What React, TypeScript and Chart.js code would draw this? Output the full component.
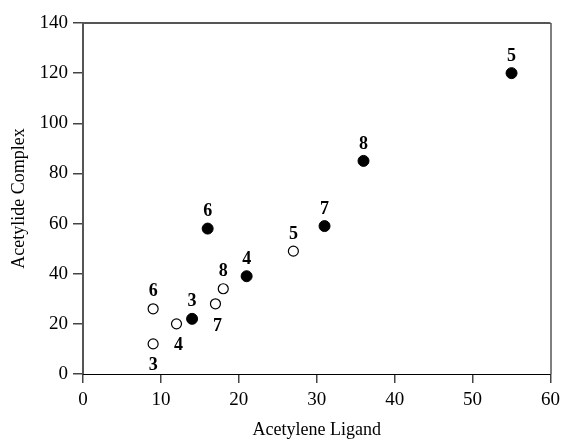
import React, { useEffect, useRef } from "react";
import { Chart, registerables } from "chart.js";

Chart.register(...registerables);

// Filled circles (acetylide complex vs ligand)
const filledX = [14, 16, 21, 31, 36, 55];
const filledY = [22, 58, 39, 59, 85, 120];
const filledLabels = ["3", "6", "4", "7", "8", "5"];

// Open circles
const openX = [9, 9, 12, 17, 18, 27];
const openY = [12, 26, 20, 28, 34, 49];
const openLabels = ["3", "6", "4", "7", "8", "5"];

const xTicks = [0, 10, 20, 30, 40, 50, 60];
const yTicks = [0, 20, 40, 60, 80, 100, 120, 140];

const xTitle = "Acetylene Ligand";
const yTitle = "Acetylide Complex";

// label placement per point: "a" = above, "b" = below
const filledPlace = ["a", "a", "a", "a", "a", "a"];
const openPlace = ["b", "a", "b", "b", "a", "a"];

const SERIF = "'Liberation Serif', 'DejaVu Serif', serif";

const pointLabelPlugin = {
  id: "pointLabels",
  afterDatasetsDraw(chart: any) {
    const ctx = chart.ctx;
    ctx.save();
    ctx.font = `bold 18px ${SERIF}`;
    ctx.fillStyle = "#000";
    ctx.textAlign = "center";
    ctx.textBaseline = "middle";
    chart.data.datasets.forEach((ds: any, di: number) => {
      const meta = chart.getDatasetMeta(di);
      meta.data.forEach((el: any, i: number) => {
        const place = ds.place[i];
        let dy = place === "a" ? -17 : 21;
        let dx = 0;
        if (place === "b" && ds.kind === "open" && (i === 2 || i === 3)) {
          dx = 2;
          if (i === 3) dy = 23;
        }
        ctx.fillText(ds.labels[i], el.x + dx, el.y + dy);
      });
    });
    ctx.restore();
  },
};

const framePlugin = {
  id: "frame",
  afterDraw(chart: any) {
    const { ctx, chartArea } = chart;
    const { left, right, top, bottom } = chartArea;
    ctx.save();
    ctx.strokeStyle = "#555";
    ctx.lineWidth = 2;
    ctx.beginPath();
    ctx.moveTo(left, bottom);
    ctx.lineTo(left, top);
    ctx.lineTo(right, top);
    ctx.stroke();
    ctx.strokeStyle = "#000";
    ctx.lineWidth = 1;
    ctx.beginPath();
    ctx.moveTo(right + 0.5, top);
    ctx.lineTo(right + 0.5, bottom);
    ctx.moveTo(left, bottom + 0.5);
    ctx.lineTo(right, bottom + 0.5);
    ctx.stroke();
    ctx.restore();
  },
};

export default function App() {
  const ref = useRef<HTMLCanvasElement>(null);
  useEffect(() => {
    if (!ref.current) return;
    const chart = new Chart(ref.current, {
      type: "scatter",
      data: {
        datasets: [
          {
            kind: "filled",
            labels: filledLabels,
            place: filledPlace,
            data: filledX.map((x, i) => ({ x, y: filledY[i] })),
            backgroundColor: "#000",
            borderColor: "#000",
            borderWidth: 1,
            pointRadius: 5.5,
          } as any,
          {
            kind: "open",
            labels: openLabels,
            place: openPlace,
            data: openX.map((x, i) => ({ x, y: openY[i] })),
            backgroundColor: "#fff",
            borderColor: "#000",
            borderWidth: 1.2,
            pointRadius: 5,
          } as any,
        ],
      },
      options: {
        animation: false,
        responsive: false,
        maintainAspectRatio: false,
        layout: { padding: { top: 23, right: 12, left: 0, bottom: 0 } },
        plugins: {
          legend: { display: false },
          tooltip: { enabled: false },
        },
        scales: {
          x: {
            type: "linear",
            min: 0,
            max: 60,
            afterBuildTicks: (s: any) => {
              s.ticks = xTicks.map((v) => ({ value: v }));
            },
            afterFit: (s: any) => {
              s.height = 67;
            },
            border: { display: false },
            grid: {
              drawOnChartArea: false,
              drawTicks: true,
              tickLength: 9,
              color: "#444",
              lineWidth: 1.5,
            },
            ticks: {
              color: "#000",
              padding: 6,
              maxRotation: 0,
              font: { family: SERIF, size: 19 },
            },
            title: {
              display: true,
              text: xTitle,
              color: "#000",
              padding: { top: 0, bottom: 0 },
              font: { family: SERIF, size: 18 },
            },
          },
          y: {
            type: "linear",
            min: 0,
            max: 140,
            afterBuildTicks: (s: any) => {
              s.ticks = yTicks.map((v) => ({ value: v }));
            },
            afterFit: (s: any) => {
              s.width = 83;
            },
            border: { display: false },
            grid: {
              drawOnChartArea: false,
              drawTicks: true,
              tickLength: 10,
              color: "#444",
              lineWidth: 1.5,
            },
            ticks: {
              color: "#000",
              padding: 5,
              font: { family: SERIF, size: 19 },
            },
            title: {
              display: true,
              text: yTitle,
              color: "#000",
              padding: { top: 8, bottom: 0 },
              font: { family: SERIF, size: 18 },
            },
          },
        },
      } as any,
      plugins: [pointLabelPlugin, framePlugin],
    });
    return () => chart.destroy();
  }, []);
  return (
    <div style={{ position: "fixed", left: 0, top: 0, width: 566, height: 441, background: "#fff" }}>
      <canvas ref={ref} width={566} height={441} style={{ display: "block" }} />
    </div>
  );
}
